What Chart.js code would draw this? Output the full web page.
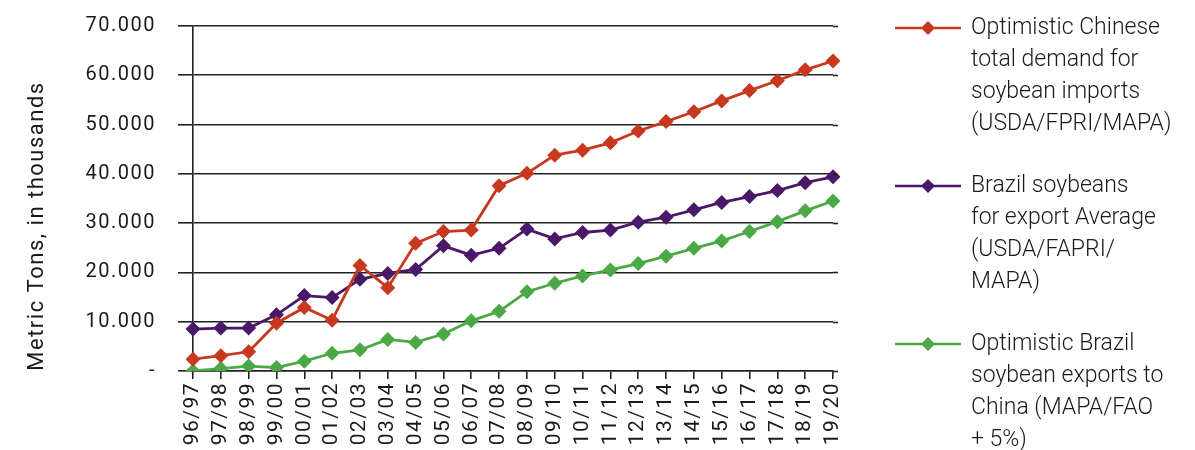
<!DOCTYPE html>
<html>
<head>
<meta charset="utf-8">
<script src="https://cdn.jsdelivr.net/npm/chart.js@4.4.1/dist/chart.umd.min.js"></script>
<style>
  html, body { margin: 0; padding: 0; background: #fff; }
  #wrap { width: 1195px; height: 450px; position: relative; }
</style>
</head>
<body>
<div id="wrap"><canvas id="soyChart"></canvas></div>
<script>
const seasons = ["96/97", "97/98", "98/99", "99/00", "00/01", "01/02", "02/03", "03/04",
    "04/05", "05/06", "06/07", "07/08", "08/09", "09/10", "10/11", "11/12",
    "12/13", "13/14", "14/15", "15/16", "16/17", "17/18", "18/19", "19/20"];

// thousand metric tons
const chinaDemand = [2400, 3100, 3900, 9700, 12900, 10300, 21400, 16900, 25900, 28300, 28600, 37600,
    40100, 43800, 44800, 46300, 48700, 50600, 52600, 54800, 56900, 58900, 61100, 62900];
const brazilExport = [8500, 8700, 8700, 11400, 15300, 14900, 18600, 19800, 20600, 25400, 23500, 24900,
    28800, 26800, 28100, 28600, 30200, 31200, 32700, 34200, 35400, 36600, 38200, 39400];
const brazilToChina = [0, 500, 1000, 700, 2000, 3600, 4300, 6400, 5800, 7500, 10200, 12100,
    16100, 17800, 19300, 20500, 21800, 23300, 24900, 26400, 28300, 30300, 32500, 34500];

const yTicks = [0, 10000, 20000, 30000, 40000, 50000, 60000, 70000];

const seriesNames = [
    ["Optimistic Chinese", "total demand for", "soybean imports", "(USDA/FPRI/MAPA)"],
    ["Brazil soybeans", "for export Average", "(USDA/FAPRI/", "MAPA)"],
    ["Optimistic Brazil", "soybean exports to", "China (MAPA/FAO", "+ 5%)"]
];
const seriesColors = ["#c8381f", "#4a1868", "#4ba845"];

function fmt(v) {
    if (v === 0) return "-";
    return String(v).replace(/\B(?=(\d{3})+(?!\d))/g, ".");
}

function lineSet(data, i) {
    return {
        label: seriesNames[i].join(" "),
        data: data,
        borderColor: seriesColors[i],
        backgroundColor: seriesColors[i],
        borderWidth: 2.8,
        pointStyle: "rectRot",
        pointRadius: 7.5,
        pointBorderWidth: 0,
        tension: 0,
        fill: false
    };
}

// wider tracking for the axis text
const tracking = {
    id: "tracking",
    beforeDraw(chart) { chart.ctx.letterSpacing = "1.5px"; }
};

// legend on the right plus the rotated axis title
const sideText = {
    id: "sideText",
    afterDraw(chart) {
        const ctx = chart.ctx;
        ctx.save();
        // gridlines run a little past the last season
        const area = chart.chartArea;
        const ys = chart.scales.y;
        ctx.strokeStyle = "#222";
        ctx.lineWidth = 1.6;
        yTicks.forEach(v => {
            const y = Math.round(ys.getPixelForValue(v)) + 0.5;
            ctx.beginPath();
            ctx.moveTo(area.right, y);
            ctx.lineTo(area.right + 5, y);
            ctx.stroke();
        });

        const blockTops = [28, 186, 344];
        ctx.letterSpacing = "0px";
        seriesNames.forEach((lines, i) => {
            const y = blockTops[i];
            ctx.strokeStyle = seriesColors[i];
            ctx.lineWidth = 2.5;
            ctx.beginPath();
            ctx.moveTo(895, y);
            ctx.lineTo(961, y);
            ctx.stroke();
            ctx.fillStyle = seriesColors[i];
            ctx.beginPath();
            ctx.moveTo(928, y - 7);
            ctx.lineTo(935, y);
            ctx.lineTo(928, y + 7);
            ctx.lineTo(921, y);
            ctx.closePath();
            ctx.fill();
            ctx.fillStyle = "#1a1a1a";
            ctx.font = "300 23px Roboto";
            ctx.textBaseline = "middle";
            ctx.textAlign = "left";
            lines.forEach((t, k) => ctx.fillText(t, 971, y + k * 32));
        });

        ctx.letterSpacing = "1.5px";
        ctx.translate(37, 226);
        ctx.rotate(-Math.PI / 2);
        ctx.textAlign = "center";
        ctx.textBaseline = "middle";
        ctx.font = "400 22px Roboto";
        ctx.fillStyle = "#1a1a1a";
        ctx.fillText("Metric Tons, in thousands", 0, 0);
        ctx.restore();
    }
};

new Chart(document.getElementById("soyChart"), {
    type: "line",
    data: {
        labels: seasons,
        datasets: [lineSet(chinaDemand, 0), lineSet(brazilExport, 1), lineSet(brazilToChina, 2)]
    },
    options: {
        responsive: true,
        maintainAspectRatio: false,
        animation: false,
        layout: { padding: { left: 0, right: 362, top: 26, bottom: 0 } },
        plugins: {
            legend: { display: false },
            tooltip: { enabled: false }
        },
        scales: {
            x: {
                offset: false,
                grid: {
                    display: true,
                    drawOnChartArea: false,
                    drawTicks: true,
                    tickLength: 8,
                    color: "#222",
                    lineWidth: 1.6
                },
                border: { display: true, color: "#222", width: 1.6 },
                ticks: {
                    minRotation: 90,
                    maxRotation: 90,
                    autoSkip: false,
                    padding: 3,
                    color: "#1a1a1a",
                    font: { family: "Roboto", size: 21, weight: "400" }
                },
                afterFit(scale) {
                    scale.height = 79;
                    scale.paddingLeft = 0;
                    scale.paddingRight = 0;
                }
            },
            y: {
                min: 0,
                max: 70000,
                afterBuildTicks(scale) { scale.ticks = yTicks.map(v => ({ value: v })); },
                grid: {
                    color: "#222",
                    lineWidth: 1.6,
                    tickLength: 15
                },
                border: { display: true, color: "#222", width: 1.6 },
                ticks: {
                    padding: 22,
                    color: "#1a1a1a",
                    font: { family: "Roboto", size: 20, weight: "400" },
                    callback: v => fmt(v)
                },
                afterFit(scale) {
                    scale.width = 193;
                    scale.paddingTop = 0;
                    scale.paddingBottom = 0;
                }
            }
        }
    },
    plugins: [tracking, sideText]
});
</script>
</body>
</html>
